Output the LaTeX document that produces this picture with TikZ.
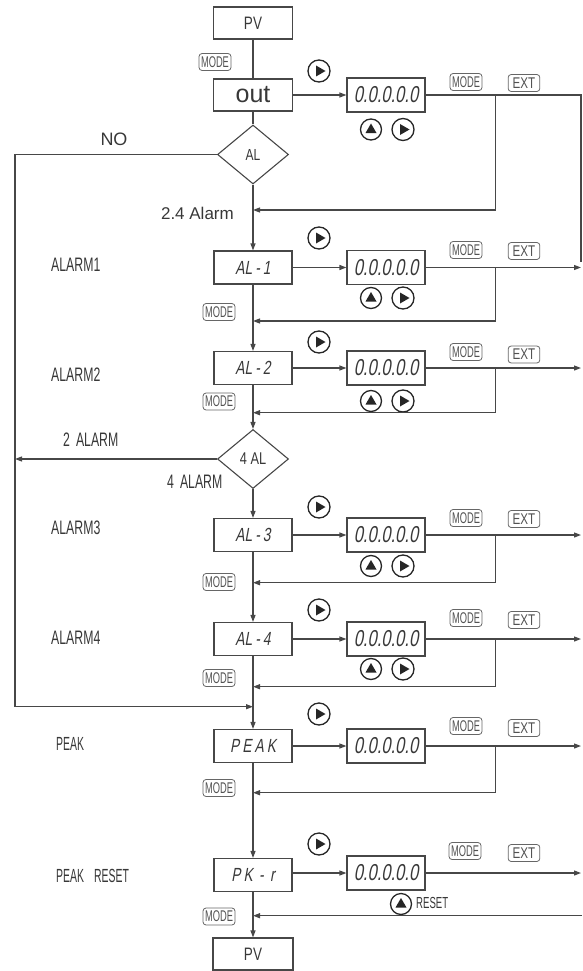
\documentclass[tikz,border=0pt]{standalone}
\usepackage{fontspec}
\setmainfont{Liberation Sans}
\newfontfamily\fA[FakeStretch=0.75]{Liberation Sans}
\newfontfamily\fL[FakeStretch=0.63]{Liberation Sans}
\newfontfamily\fM[FakeStretch=0.6]{Liberation Sans}
\newfontfamily\fP[FakeStretch=0.55]{Liberation Sans}
\newfontfamily\fS[FakeStretch=0.72,FakeSlant=0.18]{Liberation Sans}
\usetikzlibrary{shapes.geometric,arrows.meta}
\definecolor{lc}{HTML}{474747}
\definecolor{tc}{HTML}{383838}
\begin{document}
\begin{tikzpicture}[x=1pt,y=-1pt,
  ln/.style={draw=lc, line width=1.15pt},
  arr/.style={ln, -{Triangle[length=7pt,width=5pt]}},
  box/.style={draw=lc, line width=1.15pt, minimum width=78pt, minimum height=33pt, inner sep=0pt, text=tc},
  seg/.style={font=\fS\fontsize{19}{19}\selectfont},
  disp/.style={box, minimum width=78pt, minimum height=34pt, font=\fS\fontsize{23}{23}\selectfont},
  dia/.style={diamond, draw=lc, line width=1.1pt, minimum width=71pt, minimum height=59pt, inner sep=0pt, text=tc, font=\fA\fontsize{16}{16}\selectfont},
  modebox/.style={draw=black!60, rounded corners=3pt, line width=0.8pt, text=black!68, inner xsep=2pt, inner ysep=1pt, minimum height=17pt, font=\fM\fontsize{15.5}{15.5}\selectfont},
  extbox/.style={draw=black!60, rounded corners=3pt, line width=0.8pt, text=black!68, inner xsep=4.5pt, inner ysep=1pt, minimum height=17pt, font=\fA\fontsize{15.5}{15.5}\selectfont},
  btnR/.style={circle, draw=black!85, line width=1.3pt, minimum size=22pt, inner sep=0pt,
    path picture={\fill[black!85] ([shift={(-3pt,5.5pt)}]path picture bounding box.center) -- ++(9.5pt,-5.5pt) -- ++(-9.5pt,-5.5pt) -- cycle;}},
  btnU/.style={circle, draw=black!85, line width=1.3pt, minimum size=21pt, inner sep=0pt,
    path picture={\fill[black!85] ([shift={(-5.5pt,-3.5pt)}]path picture bounding box.center) -- ++(11pt,0pt) -- ++(-5.5pt,9.5pt) -- cycle;}},
  albl/.style={text=tc, inner sep=0pt, font=\fL\fontsize{19.5}{19.5}\selectfont},
  plbl/.style={text=tc, inner sep=0pt, font=\fP\fontsize{19}{19}\selectfont},
  rlbl/.style={text=tc, inner sep=0pt}
]
\useasboundingbox (0,0) rectangle (582,971);

% top part
\node[box, minimum width=79pt, minimum height=32pt, font=\fA\fontsize{18}{18}\selectfont] (pv1) at (253,23) {PV};
\node[modebox] (m0) at (215,62) {MODE};
\node[box, minimum width=79pt, minimum height=32pt, font=\fontsize{25}{25}\selectfont] (out) at (253,95) {out};
\node[btnR] (r0) at (319,71) {};
\node[disp] (d0) at (386,95) {0.0.0.0.0};
\node[btnU] (u0) at (371,129.5) {};
\node[btnR] (s0) at (403,129.5) {};
\node[modebox] (mr0) at (466,82) {MODE};
\node[extbox] (x0) at (524,83) {EXT};
\node[dia] (al) at (253,154.5) {AL};
\node[rlbl, font=\fontsize{18}{18}\selectfont] (tno) at (114,139) {NO};
\node[rlbl, anchor=east, font=\fontsize{17}{17}\selectfont] (t24) at (234,213) {2.4 Alarm};

\coordinate (rt) at (581,95);
\coordinate (rb) at (581,262);
\coordinate (j0) at (495.5,95);
\coordinate (ret0) at (253,210);
\coordinate (nt) at (15,154.5);
\coordinate (nb) at (15,706.7);
\coordinate (ne) at (253,706.7);

\draw[ln] (pv1) -- (out);
\draw[ln] (out) -- (al);
\draw[arr] (out.east) -- (d0.west);
\draw[ln] (d0.east) -- (rt) -- (rb);
\draw[arr] (j0) |- (ret0);
\draw[arr] (al.west) -- (nt) -- (nb) -- (ne);

% alarm rows
\foreach \n/\lb/\by/\rc/\mr/\ex/\cy/\ml/\rty in {
  1/AL\,-\,1/267.5/238/250/251/298/312/321,
  2/AL\,-\,2/368/342/352/354.5/401/401.5/412.7,
  3/AL\,-\,3/535/507/518/519/566/582/582.7,
  4/AL\,-\,4/639/610/618/620/669/678/686.7}{
  \node[box,seg] (a\n) at (253,\by) {\lb};
  \node[disp] (d\n) at (386,\by) {0.0.0.0.0};
  \node[btnR] (r\n) at (319,\rc) {};
  \node[modebox] (mr\n) at (466,\mr) {MODE};
  \node[extbox] (x\n) at (524,\ex) {EXT};
  \node[btnU] (u\n) at (371,\cy) {};
  \node[btnR] (s\n) at (403,\cy) {};
  \node[modebox] (ml\n) at (219,\ml) {MODE};
  \coordinate (e\n) at (581,\by);
  \coordinate (j\n) at (495.5,\by);
  \coordinate (ret\n) at (253,\rty);
  \draw[arr] (a\n.east) -- (d\n.west);
  \draw[arr] (d\n.east) -- (e\n);
  \draw[arr] (j\n) |- (ret\n);
}

\node[albl, anchor=west] (la1) at (51,265) {ALARM1};
\node[albl, anchor=west] (la2) at (51,375) {ALARM2};
\node[albl, anchor=west] (la3) at (51,528) {ALARM3};
\node[albl, anchor=west] (la4) at (51,638) {ALARM4};

\node[dia, font=\fA\fontsize{17}{17}\selectfont] (al4) at (253,459) {4 AL};
\node[albl, anchor=west] (t2a) at (63,440) {2\hspace{6pt}ALARM};
\node[albl, anchor=west] (t4a) at (167,482) {4\hspace{6pt}ALARM};
\coordinate (l2) at (15,459);
\draw[arr] (al4.west) -- (l2);

% PEAK row
\node[box,seg] (pk) at (253,746) {P\,E\,A\,K};
\node[disp] (d5) at (386,746) {0.0.0.0.0};
\node[btnR] (r5) at (319,714) {};
\node[modebox] (mr5) at (466,726) {MODE};
\node[extbox] (x5) at (524,728) {EXT};
\node[modebox] (ml5) at (219,788) {MODE};
\node[plbl, anchor=west] (lpk) at (56,744) {PEAK};
\coordinate (e5) at (581,746);
\coordinate (j5) at (495.5,746);
\coordinate (ret5) at (253,792.7);
\draw[arr] (pk.east) -- (d5.west);
\draw[arr] (d5.east) -- (e5);
\draw[arr] (j5) |- (ret5);

% PEAK RESET row
\node[box,seg] (pr) at (253,875) {P\,K\,\,-\,\,r};
\node[disp] (d6) at (386,873) {0.0.0.0.0};
\node[btnR] (r6) at (319,844) {};
\node[modebox] (mr6) at (465,851) {MODE};
\node[extbox] (x6) at (524,853) {EXT};
\node[btnU] (u6) at (401,904) {};
\node[plbl, anchor=west, font=\fM\fontsize{16}{16}\selectfont] (trs) at (416,903) {RESET};
\node[modebox] (ml6) at (219,916.5) {MODE};
\node[plbl, anchor=west] (lpr) at (56,876) {PEAK\hspace{10pt}RESET};
\coordinate (e6) at (581,873);
\coordinate (rr) at (582,915.7);
\coordinate (ret6) at (253,915.7);
\draw[arr] (pr.east |- d6.west) -- (d6.west);
\draw[arr] (d6.east) -- (e6);
\draw[arr] (rr) -- (ret6);

\node[box, minimum width=80pt, minimum height=32pt, font=\fA\fontsize{18}{18}\selectfont] (pv2) at (253,954) {PV};

% main vertical chain
\draw[arr] (al) -- (a1);
\draw[arr] (a1) -- (a2);
\draw[arr] (a2) -- (al4);
\draw[arr] (al4) -- (a3);
\draw[arr] (a3) -- (a4);
\draw[arr] (a4) -- (pk);
\draw[arr] (pk) -- (pr);
\draw[arr] (pr) -- (pv2);
\end{tikzpicture}
\end{document}
